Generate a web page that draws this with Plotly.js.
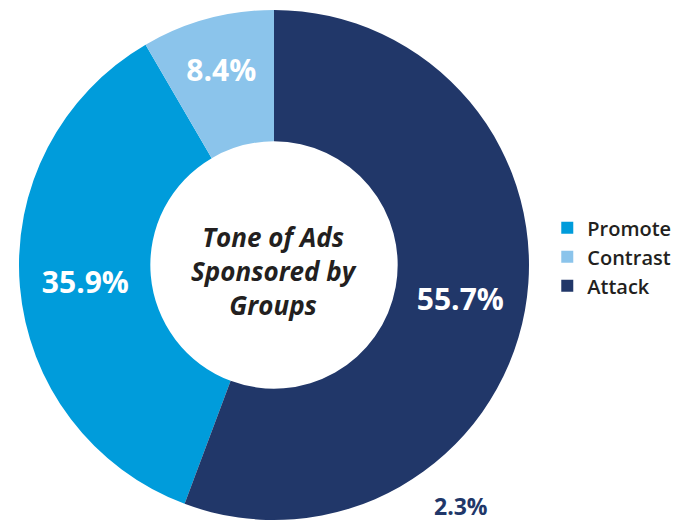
<!DOCTYPE html>
<html>
<head>
<meta charset="utf-8">
<script src="https://cdn.plot.ly/plotly-3.0.1.min.js"></script>
<style>html,body{margin:0;padding:0;background:#fff;}#chart{width:691px;height:523px;}</style>
</head>
<body>
<div id="chart"></div>
<script>
var categories = ["Promote", "Contrast", "Attack"];
var shares = [35.9, 8.4, 55.7];
var colors = ["#009CDB", "#8BC4EB", "#213769"];
var centerTitle = "Tone of Ads<br>Sponsored by<br>Groups";
var strayLabel = "2.3%";

var attackShare = shares[categories.indexOf("Attack")];

var trace = {
  type: "pie",
  labels: categories,
  values: shares,
  sort: false,
  direction: "clockwise",
  rotation: attackShare * 3.6,
  hole: 0.485,
  marker: {colors: colors, line: {width: 0}},
  texttemplate: "%{value:.1f}%",
  textposition: "inside",
  insidetextorientation: "horizontal",
  textfont: {family: "Open Sans", size: 30, color: "#ffffff", weight: 700},
  domain: {x: [19/691, 529/691], y: [0, 1]},
  hoverinfo: "label+percent"
};

var layout = {
  width: 691,
  height: 523,
  margin: {l: 0, r: 0, t: 10, b: 3},
  paper_bgcolor: "#ffffff",
  showlegend: true,
  legend: {
    x: 0.792, y: 0.516, xanchor: "left", yanchor: "middle",
    font: {family: "Open Sans", size: 20, color: "#231F20", weight: 600},
    itemwidth: 30, tracegroupgap: 0
  },
  annotations: [
    {text: "<b><i>" + centerTitle + "</i></b>", x: 274/691, y: (520-271)/510, xref: "paper", yref: "paper",
     showarrow: false, font: {family: "Open Sans", size: 26, color: "#231F20"}, align: "center"},
    {text: "<b>" + strayLabel + "</b>", x: 461/691, y: -3/510, xref: "paper", yref: "paper",
     showarrow: false, font: {family: "Open Sans", size: 23, color: "#213769"},
     xanchor: "center", yanchor: "bottom", borderpad: 0}
  ]
};

Plotly.newPlot("chart", [trace], layout, {displayModeBar: false, staticPlot: true});
</script>
</body>
</html>
